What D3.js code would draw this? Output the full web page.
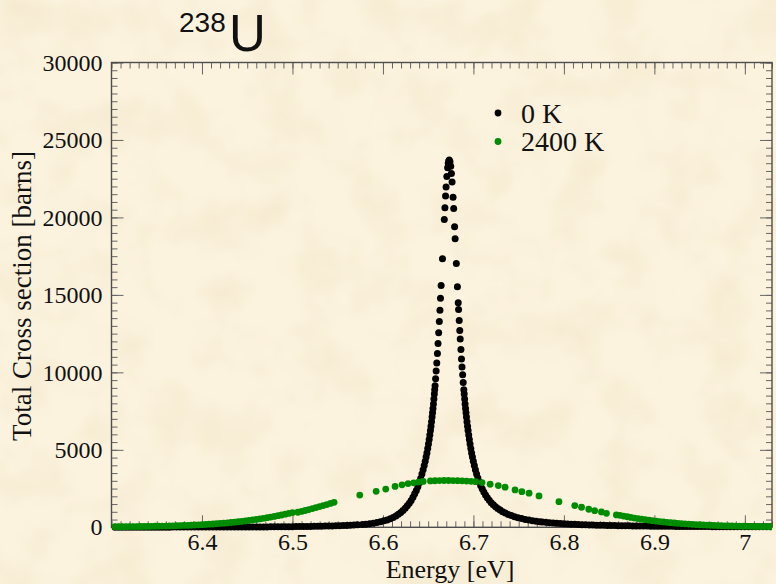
<!DOCTYPE html>
<html>
<head>
<meta charset="utf-8">
<script src="https://cdn.jsdelivr.net/npm/d3@7"></script>
<style>
  html, body { margin: 0; padding: 0; background: #fbf1dc; }
  svg { display: block; }
</style>
</head>
<body>
<div id="viz"></div>
<script>
// Values.
// 0 K series: energy grid [eV] and total cross section [barns].
var energy0K = [
  6.304,6.308,6.312,6.316,6.320,6.324,6.328,6.332,6.336,6.340,6.344,6.348,6.352,6.356,6.360,6.364,6.368,6.372,6.376,6.380,
  6.384,6.388,6.392,6.396,6.400,6.404,6.408,6.412,6.416,6.420,6.424,6.428,6.432,6.436,6.440,6.444,6.448,6.452,6.456,6.460,
  6.464,6.468,6.472,6.476,6.480,6.484,6.488,6.492,6.496,6.500,6.504,6.508,6.512,6.516,6.520,6.524,6.528,6.532,6.536,6.540,
  6.544,6.548,6.552,6.556,6.560,6.564,6.568,6.572,
  6.5773,6.5813,6.5853,6.5893,6.5933,6.5973,6.6011,6.6047,6.6081,6.6113,6.6143,6.6171,6.6197,6.6222,6.6246,6.6269,6.6291,
  6.6312,6.6332,6.6351,6.6369,6.6386,6.6402,6.6417,6.6431,6.6444,6.6456,6.6467,6.6477,6.6486,6.6495,6.6503,6.6511,6.6518,
  6.6525,6.6531,6.6537,6.6543,6.6548,6.6553,6.6558,6.6563,6.6568,6.6572,
  6.6576,6.6582,6.6588,6.6595,6.6602,6.6609,6.6616,6.6623,6.6630,6.6636,6.6643,6.6658,6.6678,6.6685,6.6692,6.6698,6.6706,
  6.6715,6.6722,6.6727,6.6733,
  6.6741,6.6749,6.6757,6.6764,6.6775,6.6782,6.6792,6.6798,6.6811,6.6823,6.6832,6.6836,6.6843,6.6849,6.6854,6.6862,6.6868,
  6.6874,6.6881,6.6887,6.6894,
  6.6898,6.6903,6.6908,6.6913,6.6918,6.6923,6.6929,6.6935,6.6941,6.6948,6.6955,6.6963,6.6971,6.6980,6.6989,6.6999,6.7010,
  6.7022,6.7035,6.7049,6.7064,6.7080,6.7097,6.7115,6.7134,6.7154,6.7175,6.7197,6.7220,6.7244,6.7269,6.7295,6.7323,6.7353,
  6.7385,6.7419,6.7455,6.7493,6.7533,6.7573,6.7613,6.7653,6.7693,6.7733,
  6.776,6.780,6.784,6.788,6.792,6.796,6.800,6.804,6.808,6.812,6.816,6.820,6.824,6.828,6.832,6.836,6.840,6.844,6.848,6.852,
  6.856,6.860,6.864,6.868,6.872,6.876,6.880,6.884,6.888,6.892,6.896,6.900,6.904,6.908,6.912,6.916,6.920,6.924,6.928,6.932,
  6.936,6.940,6.944,6.948,6.952,6.956,6.960,6.964,6.968,6.972,6.976,6.980,6.984,6.988,6.992,6.996,7.000,7.004,7.008,7.012,
  7.016,7.020,7.024,7.028,7.032
];
var sigma0K = [
  8,8,8,9,9,9,9,10,10,10,10,11,11,11,11,11,12,12,13,13,
  13,14,14,14,15,15,16,16,17,17,18,18,19,20,20,21,22,23,23,24,
  25,26,27,29,31,33,35,37,39,41,44,47,51,53,57,61,66,70,76,80,
  88,93,102,111,119,131,144,159,
  180,200,228,260,308,359,417,476,550,634,737,843,958,1089,1236,1385,1550,
  1734,1938,2162,2383,2622,2878,3152,3443,3710,3983,4259,4533,4802,5092,5371,5671,5951,
  6251,6524,6813,7119,7388,7669,7964,8274,8598,8870,
  9140,9590,10090,10610,11210,11860,12550,13280,14010,14790,15610,17330,19860,20630,21380,21970,22640,
  23200,23500,23650,23700,
  23600,23300,22830,22290,21300,20570,19400,18630,17030,15520,14490,14060,13340,12700,12160,11470,10870,
  10350,9850,9350,8880,
  8598,8274,7964,7669,7388,7119,6813,6524,6251,5951,5671,5371,5092,4802,4533,4259,3983,
  3710,3443,3184,2937,2703,2482,2276,2084,1906,1742,1592,1454,1328,1213,1109,1010,919,
  834,756,684,619,560,509,465,426,392,362,
  344,319,297,276,258,243,228,214,201,190,179,169,160,152,145,138,131,125,120,114,
  110,105,101,96,93,89,86,83,80,77,74,72,69,67,65,62,60,58,57,55,
  53,52,50,49,47,46,45,43,42,41,40,39,38,37,36,35,35,34,33,32,
  31,31,30,29,29
];

// 2400 K series (Doppler broadened).
var energy2400K = [
  6.304,6.308,6.312,6.316,6.320,6.324,6.328,6.332,6.336,6.340,6.344,6.348,6.352,6.356,6.360,6.364,6.368,6.372,6.376,6.380,
  6.384,6.388,6.392,6.396,6.400,6.404,6.408,6.412,6.416,6.420,6.424,6.428,6.432,6.436,6.440,6.444,6.448,6.452,6.456,6.460,
  6.464,6.468,6.472,6.476,6.480,6.484,6.488,6.492,6.496,6.500,
  6.506,6.510,6.514,6.518,6.522,6.526,6.530,6.534,6.538,6.542,6.546,
  6.5744,6.5925,6.6031,6.6134,6.6211,6.6278,6.6340,6.6392,6.6445,
  6.6525,6.6575,6.6625,6.6675,6.6725,6.6775,6.6825,6.6875,6.6925,6.6975,6.7025,
  6.7095,6.7185,6.7275,6.7350,6.7460,6.7535,6.7615,6.7725,6.7945,6.8120,6.8195,6.8275,6.8340,6.8415,6.8470,
  6.858,6.862,6.866,6.870,6.874,6.878,6.882,6.886,6.890,6.894,6.898,6.902,6.906,6.910,6.914,6.918,6.922,6.926,6.930,6.934,
  6.938,6.942,6.946,6.950,6.954,6.958,6.962,6.966,6.970,6.974,6.978,6.982,6.986,6.990,6.994,6.998,7.002,7.006,7.010,7.014,
  7.018,7.022,7.026,7.030
];
var sigma2400K = [
  35,37,39,41,44,46,49,52,55,59,63,67,71,76,82,88,95,102,109,118,
  127,137,147,159,171,184,199,214,231,249,268,288,310,334,358,385,413,442,474,507,
  542,579,619,659,702,748,795,845,896,949,
  970,1025,1084,1144,1206,1269,1334,1401,1469,1540,1612,
  2080,2320,2470,2640,2740,2820,2870,2920,2960,
  2990,3005,3015,3020,3020,3018,3010,3000,2985,2965,2945,
  2885,2780,2690,2590,2410,2300,2200,2025,1655,1400,1295,1165,1075,990,905,
  800,771,725,681,639,598,561,525,491,458,427,399,371,346,322,299,278,259,240,222,
  207,191,178,165,153,142,131,122,114,106,98,91,85,79,74,69,64,60,57,54,
  50,47,45,42
];

var seriesNames = ["0 K", "2400 K"];
var seriesColors = ["#000000", "#008c00"];

var xTickValues = [6.4, 6.5, 6.6, 6.7, 6.8, 6.9, 7.0];
var xTickLabels = ["6.4", "6.5", "6.6", "6.7", "6.8", "6.9", "7"];
var yTickValues = [0, 5000, 10000, 15000, 20000, 25000, 30000];
var yTickLabels = ["0", "5000", "10000", "15000", "20000", "25000", "30000"];

var W = 776, H = 584;
// plot box in pixels
var box = { left: 111.5, right: 772, top: 62.5, bottom: 527.3 };

var svg = d3.select("#viz").append("svg")
    .attr("width", W)
    .attr("height", H);

var defs = svg.append("defs");

// old paper look for the background
var paper = defs.append("filter").attr("id", "paper")
    .attr("x", 0).attr("y", 0).attr("width", "100%").attr("height", "100%");
paper.append("feTurbulence")
    .attr("type", "fractalNoise")
    .attr("baseFrequency", "0.02")
    .attr("numOctaves", 3)
    .attr("seed", 5);
paper.append("feColorMatrix")
    .attr("type", "matrix")
    .attr("values", "0 0 0 0 0.91  0 0 0 0 0.82  0 0 0 0 0.62  1.7 0 0 0 -0.68");

defs.append("clipPath").attr("id", "plotclip")
  .append("rect")
    .attr("x", box.left).attr("y", 0)
    .attr("width", box.right - box.left).attr("height", H);

svg.append("rect")
    .attr("width", W).attr("height", H)
    .attr("fill", "#fcf3df");
svg.append("rect")
    .attr("width", W).attr("height", H)
    .attr("filter", "url(#paper)");

var x = d3.scaleLinear().domain([6.3, 7.03]).range([box.left, box.right]);
var y = d3.scaleLinear().domain([0, 30000]).range([box.bottom, box.top]);

var serif = "'Liberation Serif', 'Times New Roman', serif";

// minor ticks on all four sides, pointing in
function minor(axis, tx, ty) {
  var g = svg.append("g")
      .attr("transform", "translate(" + tx + "," + ty + ")")
      .call(axis);
  g.select(".domain").remove();
  g.selectAll(".tick line").attr("stroke", "#666").attr("stroke-width", 1);
  g.selectAll("text").remove();
}
minor(d3.axisBottom(x).tickValues(x.ticks(73)).tickSizeInner(-6).tickSizeOuter(0), 0, box.bottom);
minor(d3.axisTop(x).tickValues(x.ticks(73)).tickSizeInner(-6).tickSizeOuter(0), 0, box.top);
minor(d3.axisLeft(y).tickValues(y.ticks(60)).tickSizeInner(-6).tickSizeOuter(0), box.left, 0);
minor(d3.axisRight(y).tickValues(y.ticks(60)).tickSizeInner(-6).tickSizeOuter(0), box.right, 0);

// major ticks, labelled on the bottom and the left
var gx = svg.append("g")
    .attr("transform", "translate(0," + box.bottom + ")")
    .call(d3.axisBottom(x)
      .tickValues(xTickValues)
      .tickFormat(function (d, i) { return xTickLabels[i]; })
      .tickSizeInner(-12).tickSizeOuter(0).tickPadding(6));
var gy = svg.append("g")
    .attr("transform", "translate(" + box.left + ",0)")
    .call(d3.axisLeft(y)
      .tickValues(yTickValues)
      .tickFormat(function (d, i) { return yTickLabels[i]; })
      .tickSizeInner(-12).tickSizeOuter(0).tickPadding(9));
var gt = svg.append("g")
    .attr("transform", "translate(0," + box.top + ")")
    .call(d3.axisTop(x).tickValues(xTickValues).tickSizeInner(-12).tickSizeOuter(0));
var gr = svg.append("g")
    .attr("transform", "translate(" + box.right + ",0)")
    .call(d3.axisRight(y).tickValues(yTickValues).tickSizeInner(-12).tickSizeOuter(0));

[gx, gy, gt, gr].forEach(function (g) {
  g.select(".domain").remove();
  g.selectAll(".tick line").attr("stroke", "#666").attr("stroke-width", 1);
});
gt.selectAll("text").remove();
gr.selectAll("text").remove();
[gx, gy].forEach(function (g) {
  g.selectAll("text")
    .attr("fill", "#111")
    .style("font-family", serif)
    .style("font-size", "24px");
});

// frame
svg.append("rect")
    .attr("x", box.left).attr("y", box.top)
    .attr("width", box.right - box.left).attr("height", box.bottom - box.top)
    .attr("fill", "none")
    .attr("stroke", "#4d4d4d")
    .attr("stroke-width", 1.4);

// axis titles
svg.append("text")
    .attr("x", 450).attr("y", 577.5)
    .attr("text-anchor", "middle")
    .attr("fill", "#111")
    .style("font-family", serif)
    .style("font-size", "26px")
    .text("Energy [eV]");
svg.append("text")
    .attr("transform", "translate(31,296) rotate(-90)")
    .attr("text-anchor", "middle")
    .attr("fill", "#111")
    .style("font-family", serif)
    .style("font-size", "27px")
    .text("Total Cross section [barns]");

// the points: 0 K first, 2400 K drawn over it
var plot = svg.append("g").attr("clip-path", "url(#plotclip)");

plot.append("g").selectAll("circle")
    .data(d3.zip(energy0K, sigma0K))
  .enter().append("circle")
    .attr("cx", function (d) { return x(d[0]); })
    .attr("cy", function (d) { return y(d[1]); })
    .attr("r", 3.5)
    .attr("fill", seriesColors[0]);

plot.append("g").selectAll("circle")
    .data(d3.zip(energy2400K, sigma2400K))
  .enter().append("circle")
    .attr("cx", function (d) { return x(d[0]); })
    .attr("cy", function (d) { return y(d[1]); })
    .attr("r", 3.4)
    .attr("fill", seriesColors[1]);

// legend
var legend = svg.append("g").attr("transform", "translate(498,113)");
var item = legend.selectAll("g")
    .data(seriesNames)
  .enter().append("g")
    .attr("transform", function (d, i) { return "translate(0," + (i * 28.5) + ")"; });
item.append("circle")
    .attr("r", 3.4)
    .attr("fill", function (d, i) { return seriesColors[i]; });
item.append("text")
    .attr("x", 23).attr("y", 9.5)
    .attr("fill", "#111")
    .style("font-family", serif)
    .style("font-size", "28px")
    .text(function (d) { return d; });

// title: 238U
var title = svg.append("text")
    .attr("fill", "#111")
    .style("font-family", "'Liberation Sans', Arial, sans-serif");
title.append("tspan")
    .attr("x", 179).attr("y", 32)
    .style("font-size", "28px")
    .text("238");
title.append("tspan")
    .attr("x", 229).attr("y", 51)
    .style("font-size", "51px")
    .text("U");
</script>
</body>
</html>
